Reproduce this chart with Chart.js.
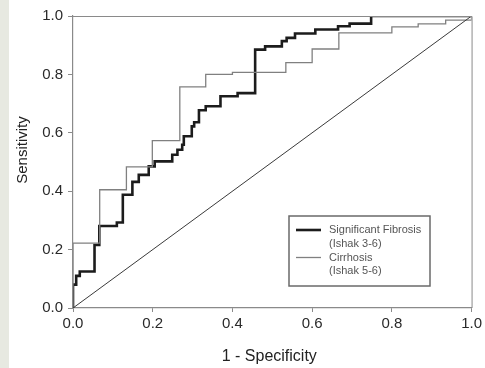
<!DOCTYPE html>
<html>
<head>
<meta charset="utf-8">
<script src="https://cdn.jsdelivr.net/npm/chart.js@4"></script>
<style>
  html, body { margin: 0; padding: 0; background: #e7e9e1; }
  #wrap { position: absolute; left: 9px; top: 0; width: 476px; height: 368px; background: #fff; }
</style>
</head>
<body>
<div id="wrap"><canvas id="roc" width="476" height="368"></canvas></div>
<script>
// ROC points: 1 - specificity (x) and sensitivity (y)
const fibrosisFpr = [0, 0, 0.008, 0.017, 0.054, 0.066, 0.11, 0.125, 0.149, 0.165, 0.19, 0.205, 0.249,
  0.262, 0.274, 0.278, 0.298, 0.304, 0.316, 0.333, 0.37, 0.413, 0.457, 0.482, 0.524, 0.536, 0.557,
  0.608, 0.665, 0.694, 0.748, 1];
const fibrosisTpr = [0, 0.08, 0.11, 0.125, 0.216, 0.281, 0.293, 0.388, 0.432, 0.456, 0.485, 0.502, 0.525,
  0.542, 0.559, 0.588, 0.622, 0.636, 0.677, 0.691, 0.725, 0.736, 0.885, 0.896, 0.914, 0.925, 0.94,
  0.954, 0.965, 0.974, 1, 1];

const cirrhosisFpr = [0, 0, 0.067, 0.134, 0.199, 0.268, 0.333, 0.4, 0.534, 0.6, 0.667, 0.8, 0.866, 0.935, 1];
const cirrhosisTpr = [0, 0.222, 0.405, 0.483, 0.573, 0.757, 0.8, 0.807, 0.84, 0.887, 0.942, 0.963, 0.973, 0.986, 1];

const chanceLine = [0, 1];
const tickValues = [0, 0.2, 0.4, 0.6, 0.8, 1.0];

const legendItems = [
  { label: ['Significant Fibrosis', '(Ishak 3-6)'], color: '#1c1c1c', width: 2.6 },
  { label: ['Cirrhosis', '(Ishak 5-6)'], color: '#808080', width: 1.3 }
];

const toPoints = (xs, ys) => xs.map((x, i) => ({ x: x, y: ys[i] }));

const fontFamily = '"Liberation Sans", Arial, sans-serif';

// frame, axis titles and the boxed legend
const decorPlugin = {
  id: 'decor',
  afterDraw(chart) {
    const { ctx, chartArea: a } = chart;
    ctx.save();
    ctx.strokeStyle = '#8a8a8a';
    ctx.lineWidth = 1;
    ctx.beginPath();
    ctx.moveTo(a.left, a.top + 0.5);
    ctx.lineTo(a.right + 0.5, a.top + 0.5);
    ctx.lineTo(a.right + 0.5, a.bottom);
    ctx.stroke();

    ctx.fillStyle = '#222';
    ctx.textAlign = 'center';
    ctx.textBaseline = 'middle';
    ctx.font = '16px ' + fontFamily;
    ctx.fillText('1 - Specificity', (a.left + a.right) / 2 - 3, a.bottom + 49);
    ctx.save();
    ctx.translate(14, a.top + 134);
    ctx.rotate(-Math.PI / 2);
    ctx.font = '15px ' + fontFamily;
    ctx.fillText('Sensitivity', 0, 0);
    ctx.restore();

    // legend box
    const bx = a.left + 216, by = a.top + 200, bw = 141, bh = 70;
    ctx.strokeStyle = '#6a6a6a';
    ctx.lineWidth = 1.5;
    ctx.strokeRect(bx, by, bw, bh);
    ctx.font = '11px ' + fontFamily;
    ctx.textAlign = 'left';
    ctx.fillStyle = '#555';
    legendItems.forEach((item, i) => {
      const y0 = by + 14 + i * 27.5;
      ctx.strokeStyle = item.color;
      ctx.lineWidth = item.width;
      ctx.beginPath();
      ctx.moveTo(bx + 7, y0);
      ctx.lineTo(bx + 32, y0);
      ctx.stroke();
      ctx.fillText(item.label[0], bx + 40, y0);
      ctx.fillText(item.label[1], bx + 40, y0 + 13.5);
    });
    ctx.restore();
  }
};

new Chart(document.getElementById('roc'), {
  type: 'line',
  data: {
    datasets: [
      {
        label: 'Chance',
        data: toPoints(chanceLine, chanceLine),
        borderColor: '#3a3a3a',
        borderWidth: 1,
        pointRadius: 0
      },
      {
        label: 'Cirrhosis (Ishak 5-6)',
        data: toPoints(cirrhosisFpr, cirrhosisTpr),
        borderColor: '#808080',
        borderWidth: 1.3,
        stepped: 'before',
        pointRadius: 0
      },
      {
        label: 'Significant Fibrosis (Ishak 3-6)',
        data: toPoints(fibrosisFpr, fibrosisTpr),
        borderColor: '#1c1c1c',
        borderWidth: 2.6,
        stepped: 'before',
        pointRadius: 0
      }
    ]
  },
  options: {
    responsive: false,
    animation: false,
    layout: { padding: { top: 16, right: 10, left: 0, bottom: 0 } },
    plugins: { legend: { display: false }, tooltip: { enabled: false } },
    scales: {
      x: {
        type: 'linear',
        min: 0,
        max: 1,
        afterBuildTicks: (scale) => { scale.ticks = tickValues.map(v => ({ value: v })); },
        afterFit: (scale) => { scale.height = 60; },
        grid: { drawOnChartArea: false, tickLength: 4, color: '#8a8a8a' },
        border: { color: '#8a8a8a', width: 1.2 },
        ticks: {
          padding: 3,
          color: '#2a2a2a',
          font: { family: fontFamily, size: 15 },
          callback: (v) => v.toFixed(1)
        }
      },
      y: {
        type: 'linear',
        min: 0,
        max: 1,
        afterBuildTicks: (scale) => { scale.ticks = tickValues.map(v => ({ value: v })); },
        afterFit: (scale) => { scale.width = 64; },
        grid: { drawOnChartArea: false, tickLength: 5, color: '#8a8a8a' },
        border: { color: '#8a8a8a', width: 1.2 },
        ticks: {
          padding: 5,
          color: '#2a2a2a',
          font: { family: fontFamily, size: 15 },
          callback: (v) => v.toFixed(1)
        }
      }
    }
  },
  plugins: [decorPlugin]
});
</script>
</body>
</html>
